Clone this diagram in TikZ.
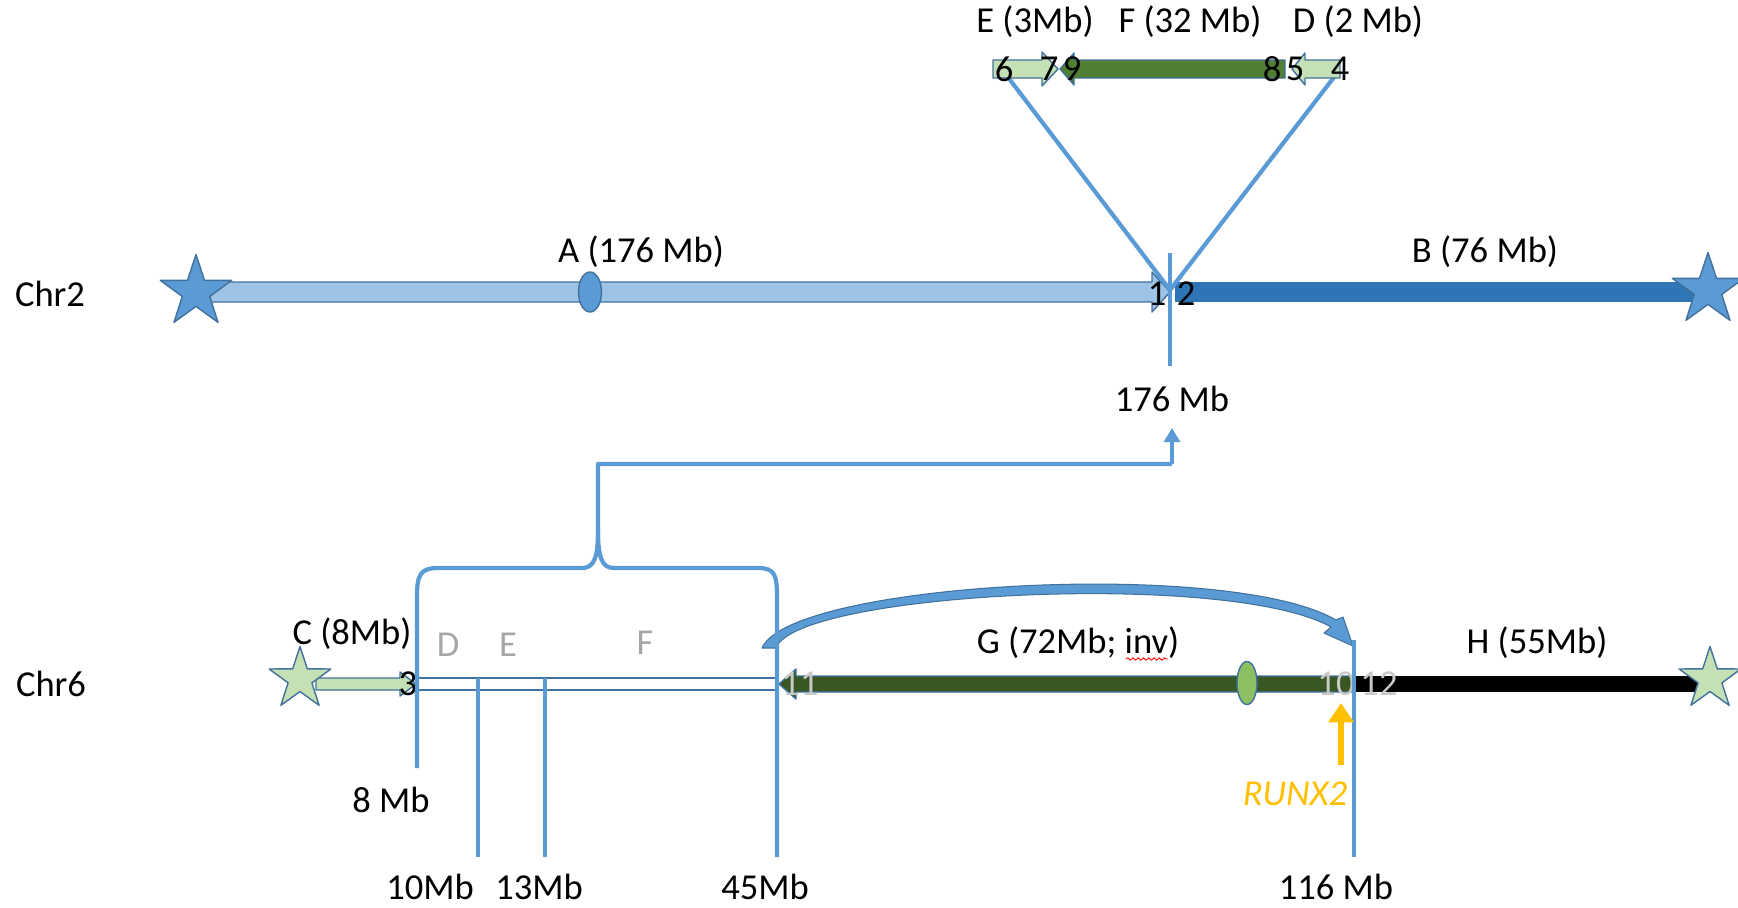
\documentclass[tikz,border=0pt]{standalone}
\usepackage{fontspec}
\setmainfont{Carlito}
\usepackage{xcolor}
\usetikzlibrary{arrows.meta,positioning,shapes.geometric,decorations.pathmorphing}
\definecolor{lineblue}{HTML}{5B9BD5}
\definecolor{edgeblue}{HTML}{41719C}
\definecolor{paleblue}{HTML}{9DC3E6}
\definecolor{deepblue}{HTML}{2E75B6}
\definecolor{palegreen}{HTML}{C5E0B4}
\definecolor{midgreen}{HTML}{507E32}
\definecolor{deepgreen}{HTML}{385723}
\definecolor{cengreen}{HTML}{8CC063}
\definecolor{runxgold}{HTML}{FFC000}
\definecolor{ghost}{HTML}{A6A6A6}
\definecolor{ghostlite}{HTML}{C9C9C9}

\begin{document}
\begin{tikzpicture}[x=0.02cm,y=-0.02cm,line join=round,
lbl/.style={font=\fontsize{20.8}{24}\selectfont,inner sep=0pt},
fade/.style={lbl,text=ghost},
lite/.style={lbl,text=ghostlite},
posline/.style={draw=lineblue,line width=2.4pt},
segbar/.style={draw=edgeblue,line width=0.8pt},
chrstar/.style={star,star points=5,star point ratio=2.6,draw=edgeblue,line width=0.8pt,inner sep=0pt,minimum size=#1},
cenmere/.style={ellipse,draw=edgeblue,line width=0.8pt,inner sep=0pt}
]
\useasboundingbox (0,0) rectangle (1738,907);

\node[lbl] (chr2) at (50,294) {Chr2};
\node[lbl] (chr6) at (51,684) {Chr6};

% Chr2
\filldraw[segbar,fill=paleblue] (205,282) -- (1152,282) -- (1152,272) -- (1170,292) -- (1152,312) -- (1152,302) -- (205,302) -- cycle;
\fill[deepblue] (1175,282) rectangle (1705,302);
\node[cenmere,fill=lineblue,minimum width=0.46cm,minimum height=0.8cm] (cenA) at (590,292) {};
\node[chrstar=1.5cm,fill=lineblue] (star2l) at (196,292) {};
\node[chrstar=1.5cm,fill=lineblue] (star2r) at (1708,290) {};
\node[lbl] (segA) at (641,252) {A (176 Mb)};
\node[lbl] (segB) at (1485,252) {B (76 Mb)};

\coordinate (brk2) at (1170,290);
\coordinate (endE) at (1004,72);
\coordinate (endD) at (1338,72);
\draw[posline] (endE) -- (brk2) -- (endD);
\draw[posline] (1170,253) -- (1170,366);
\node[lbl] (mb176) at (1172,399) {176 Mb};

% inserted segments
\filldraw[segbar,fill=palegreen] (993,60) -- (1042,60) -- (1042,52) -- (1058,69) -- (1042,86) -- (1042,78) -- (993,78) -- cycle;
\filldraw[segbar,fill=midgreen] (1060,69) -- (1074,53) -- (1074,60) -- (1285,60) -- (1285,78) -- (1074,78) -- (1074,85) -- cycle;
\filldraw[segbar,fill=palegreen] (1292,69) -- (1305,53) -- (1305,60) -- (1340,60) -- (1340,78) -- (1305,78) -- (1305,85) -- cycle;
\node[lbl] (segE) at (1035,22) {E (3Mb)};
\node[lbl] (segF) at (1190,22) {F (32 Mb)};
\node[lbl] (segD) at (1358,22) {D (2 Mb)};
\node[lbl] (n6) at (1004,69) {6};
\node[lbl] (n7) at (1049,69) {7};
\node[lbl] (n9) at (1072,69) {9};
\node[lbl] (n8) at (1272,69) {8};
\node[lbl] (n5) at (1295,69) {5};
\node[lbl] (n4) at (1340,69) {4};
\node[lbl] (n1) at (1157,294) {1};
\node[lbl] (n2) at (1186,294) {2};

% Chr6
\filldraw[segbar,fill=palegreen] (316,678) -- (400,678) -- (400,672) -- (416,684) -- (400,696) -- (400,690) -- (316,690) -- cycle;
\filldraw[segbar,fill=white] (418,678) rectangle (778,690);
\filldraw[segbar,fill=deepgreen] (779,684) -- (796,669) -- (796,676) -- (1354,676) -- (1354,692) -- (796,692) -- (796,699) -- cycle;
\fill[black] (1356,676) rectangle (1700,692);
\node[cenmere,fill=cengreen,minimum width=0.4cm,minimum height=0.86cm] (cenG) at (1247,683) {};
\node[chrstar=1.3cm,fill=palegreen] (star6l) at (300,679) {};
\node[chrstar=1.3cm,fill=palegreen] (star6r) at (1710,679) {};

\node[lbl] (segC) at (352,634) {C (8Mb)};
\node[fade] (oldD) at (448,645) {D};
\node[fade] (oldE) at (508,645) {E};
\node[fade] (oldF) at (645,643) {F};
\node[lbl] (segG) at (1078,643) {G (72Mb; inv)};
\draw[red,line width=0.5pt,decorate,decoration={snake,amplitude=0.7pt,segment length=3pt}] (1126,659) -- (1168,659);
\node[lbl] (segH) at (1537,643) {H (55Mb)};
\node[lbl] (n3) at (408,684) {3};
\node[lite] (n11) at (800,684) {11};
\node[lite] (n10) at (1336,684) {10};
\node[lite] (n12) at (1379,684) {12};

\filldraw[draw=edgeblue,line width=0.6pt,fill=lineblue] (762,648) .. controls (790,582) and (1230,558) .. (1336,620) -- (1343,617) -- (1353,646) -- (1324,633) -- (1331,627) .. controls (1230,570) and (796,592) .. (776,648) -- cycle;

\draw[posline] (417,768) -- (417,596) .. controls (417,574) and (421,568) .. (438,568) -- (582,568) .. controls (594,568) and (598,558) .. (598,530) -- (598,464) -- (1172,464);
\draw[posline,-{Triangle[length=8pt,width=9pt]}] (1172,464) -- (mb176.south |- 0,428);
\draw[posline] (598,530) .. controls (598,558) and (602,568) .. (614,568) -- (758,568) .. controls (774,568) and (777,574) .. (777,596) -- (777,857);
\draw[posline] (478,678) -- (478,857);
\draw[posline] (545,678) -- (545,857);
\draw[posline] (1354,640) -- (1354,857);

\node[lbl] (mb8) at (391,800) {8 Mb};
\node[lbl] (mb10) at (430,887) {10Mb};
\node[lbl] (mb13) at (539,887) {13Mb};
\node[lbl] (mb45) at (765,887) {45Mb};
\node[lbl] (mb116) at (1336,887) {116 Mb};

\coordinate (runxfoot) at (1341,765);
\draw[runxgold,line width=3pt,-{Triangle[length=11pt,width=14pt]}] (runxfoot) -- (1341,703);
\node[lbl,text=runxgold,font=\fontsize{20.8}{24}\selectfont\itshape] (runx) at (1295,794) {RUNX2};
\end{tikzpicture}
\end{document}
